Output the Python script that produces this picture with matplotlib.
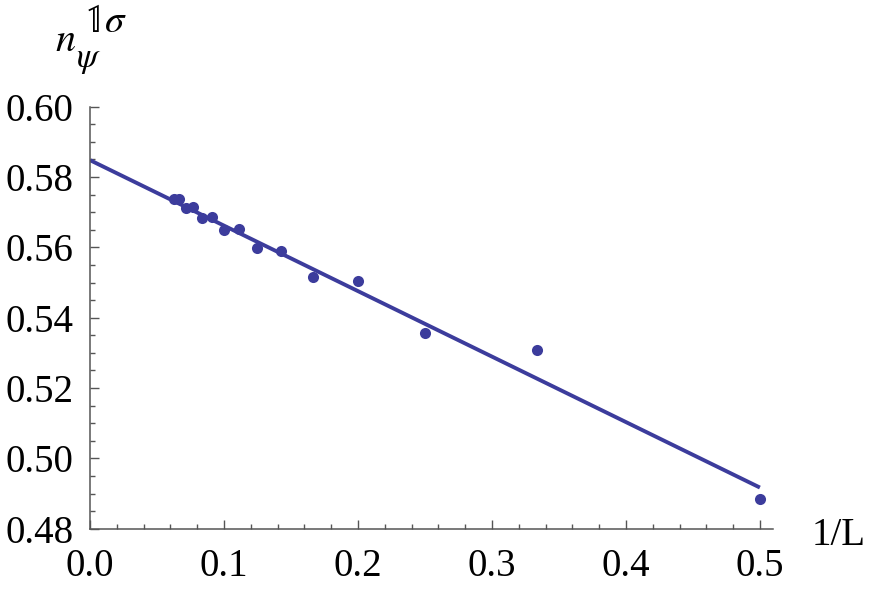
import numpy as np
import matplotlib
matplotlib.use('Agg')
import matplotlib.pyplot as plt
from matplotlib.ticker import MultipleLocator, FormatStrFormatter

plt.rcParams['font.family'] = ['Liberation Serif', 'DejaVu Serif']
plt.rcParams['mathtext.fontset'] = 'stix'

# system sizes and measured values
L = [16, 15, 14, 13, 12, 11, 10, 9, 8, 7, 6, 5, 4, 3, 2]
n_psi = [0.5737, 0.5737, 0.5711, 0.5714, 0.5683, 0.5687, 0.5649, 0.5651,
         0.5599, 0.5590, 0.5515, 0.5504, 0.5357, 0.5308, 0.4884]

# linear extrapolation
fit_intercept = 0.5848
fit_slope = -0.1862

color = '#3c3c9c'
axis_color = '#555555'

inv_L = 1.0 / np.array(L)

fig = plt.figure(figsize=(8.72, 5.98), dpi=100)
ax = fig.add_axes([0.1032, 0.1159, 0.7836, 0.7057])

x_fit = np.array([0.0, inv_L.max()])
ax.plot(x_fit, fit_intercept + fit_slope * x_fit, color=color, lw=2.8,
        solid_capstyle='butt', zorder=2)
ax.plot(inv_L, n_psi, 'o', color=color, ms=8, mec='none', zorder=3)

ax.set_xlim(0, 0.51)
ax.set_ylim(0.48, 0.60)

ax.xaxis.set_major_locator(MultipleLocator(0.1))
ax.xaxis.set_minor_locator(MultipleLocator(0.02))
ax.yaxis.set_major_locator(MultipleLocator(0.02))
ax.yaxis.set_minor_locator(MultipleLocator(0.005))
ax.xaxis.set_major_formatter(FormatStrFormatter('%.1f'))
ax.yaxis.set_major_formatter(FormatStrFormatter('%.2f'))

for side in ['top', 'right']:
    ax.spines[side].set_visible(False)
for side in ['left', 'bottom']:
    ax.spines[side].set_color(axis_color)
    ax.spines[side].set_linewidth(1.1)

ax.tick_params(which='both', direction='in', color=axis_color, width=1.0,
               labelsize=28, labelcolor='black')
ax.tick_params(which='major', length=6.5)
ax.tick_params(which='minor', length=3.6)
ax.tick_params(axis='x', which='major', pad=14)
ax.tick_params(axis='y', which='major', pad=12)

fig.text(812 / 872, 1 - 545 / 598, '1/L', fontsize=28, ha='left', va='baseline')

# y label n_psi^(1 sigma), pieces placed by hand to match the big superscript
fig.text(55 / 872, 1 - 51 / 598, r'$n$', fontsize=29, ha='left', va='baseline')
fig.text(84 / 872, 1 - 32 / 598, r'$\mathbb{1}\sigma$', fontsize=28,
         ha='left', va='baseline')
fig.text(76 / 872, 1 - 67 / 598, r'$\psi$', fontsize=25, ha='left', va='baseline')

fig.savefig('out.png', dpi=100)
